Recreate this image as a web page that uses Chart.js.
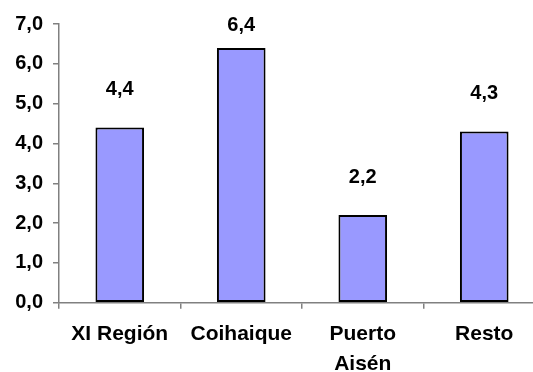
<!DOCTYPE html>
<html>
<head>
<meta charset="utf-8">
<script src="https://cdn.jsdelivr.net/npm/chart.js@4/dist/chart.umd.min.js"></script>
<style>
  html, body { margin: 0; padding: 0; overflow: hidden; background: #fff; }
  #wrap { width: 545px; height: 372px; }
</style>
</head>
<body>
<div id="wrap"><canvas id="barChart" width="545" height="372"></canvas></div>
<script>
var categories = ["XI Región", "Coihaique", ["Puerto", "Aisén"], "Resto"];
var values = [4.4, 6.4, 2.2, 4.3];
var yTicks = [0, 1, 2, 3, 4, 5, 6, 7];

var fontFamily = "'Liberation Sans', Arial, sans-serif";

function formatComma(v) {
  return Number(v).toFixed(1).replace(".", ",");
}

// draws the value above every bar
var valueLabels = {
  id: "valueLabels",
  afterDatasetsDraw: function (chart) {
    var ctx = chart.ctx;
    var meta = chart.getDatasetMeta(0);
    ctx.save();
    ctx.font = "bold 20px " + fontFamily;
    ctx.fillStyle = "#000";
    ctx.textAlign = "center";
    ctx.textBaseline = "middle";
    meta.data.forEach(function (bar, i) {
      var y = Math.max(bar.y - 38, chart.chartArea.top + 1);
      ctx.fillText(formatComma(values[i]), bar.x, y);
    });
    ctx.restore();
  }
};

function initializeChart() {
  var canvas = document.getElementById("barChart");
  new Chart(canvas, {
    type: "bar",
    data: {
      labels: categories,
      datasets: [
        {
          data: values,
          backgroundColor: "#9999ff",
          borderColor: "#000",
          borderWidth: 2,
          borderSkipped: false,
          categoryPercentage: 1,
          barPercentage: 0.4
        }
      ]
    },
    options: {
      responsive: false,
      animation: false,
      devicePixelRatio: 1,
      layout: { padding: { top: 24, right: 0, left: 0, bottom: 0 } },
      plugins: {
        legend: { display: false },
        tooltip: { enabled: false }
      },
      scales: {
        x: {
          grid: { drawOnChartArea: false, drawTicks: true, tickLength: 6, color: "#808080", lineWidth: 1.5 },
          border: { color: "#808080", width: 1.5 },
          ticks: {
            color: "#000",
            padding: 10.5,
            maxRotation: 0,
            autoSkip: false,
            font: { family: fontFamily, size: 21, weight: "bold", lineHeight: "30px" }
          },
          afterFit: function (scale) { scale.height = 69.3; }
        },
        y: {
          min: 0,
          max: 7,
          afterBuildTicks: function (scale) {
            scale.ticks = yTicks.map(function (v) { return { value: v }; });
          },
          grid: { drawOnChartArea: false, drawTicks: true, tickLength: 6, color: "#808080", lineWidth: 1.5 },
          border: { color: "#808080", width: 1.5 },
          ticks: {
            color: "#000",
            padding: 10,
            font: { family: fontFamily, size: 20, weight: "bold" },
            callback: function (v) { return formatComma(v); }
          },
          afterFit: function (scale) { scale.width = 59; }
        }
      }
    },
    plugins: [valueLabels]
  });
}

initializeChart();
</script>
</body>
</html>
